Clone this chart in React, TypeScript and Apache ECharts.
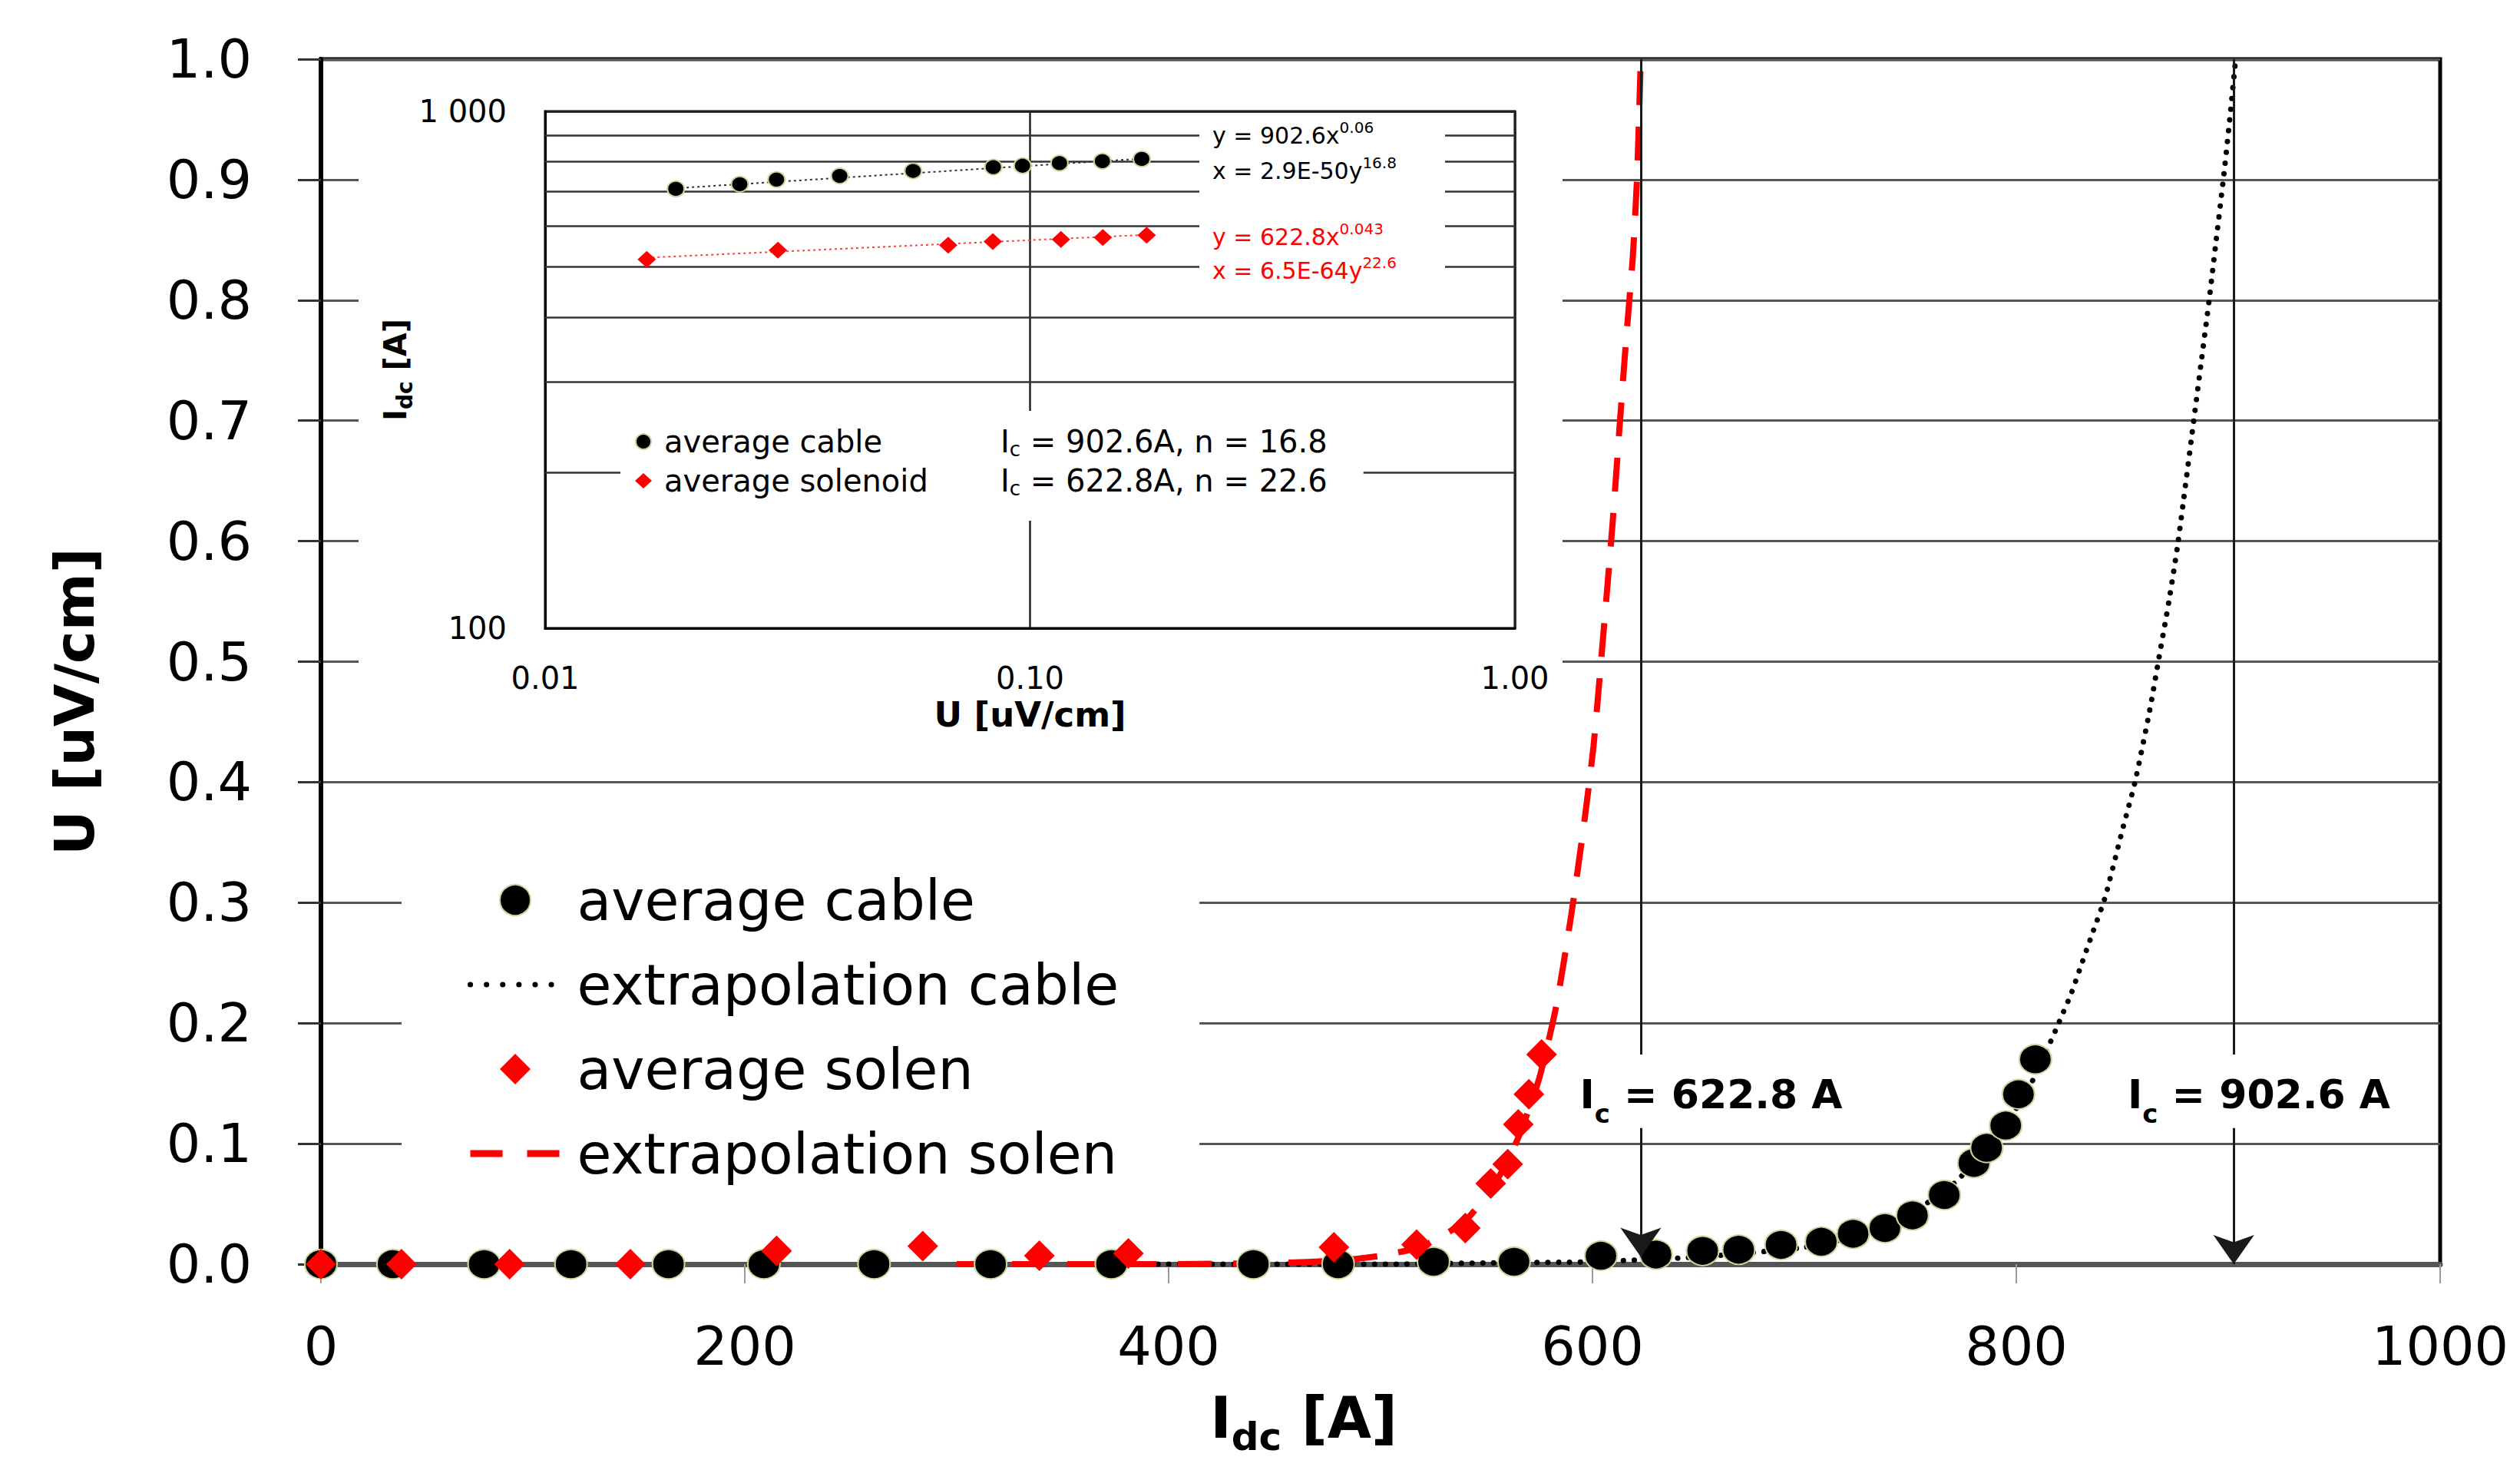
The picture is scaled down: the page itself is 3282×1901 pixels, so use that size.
import React, { useEffect, useRef } from "react";
import * as echarts from "echarts";

// ---------- main plot data (I in A, U in uV/cm) ----------
const cableI = [0, 34, 77, 118, 164, 209, 261, 316, 373, 440, 480, 525, 563, 604, 630, 652, 669, 689, 708, 723, 738, 751, 766, 780, 786, 795, 801, 809];
const cableU = [0, 0, 0, 0, 0, 0, 0, 0, 0, 0, 0, 0.002, 0.002, 0.007, 0.008, 0.011, 0.012, 0.016, 0.0186, 0.0252, 0.03, 0.0405, 0.0574, 0.084, 0.0965, 0.115, 0.141, 0.17];
const solenI = [0, 38, 89, 146, 215, 284, 339, 381, 478, 517, 540, 552, 560, 565, 570, 576];
const solenU = [0, 0, 0, 0, 0.011, 0.015, 0.007, 0.009, 0.014, 0.0162, 0.03, 0.067, 0.083, 0.116, 0.141, 0.174];

const extCableI = [395, 450, 500, 550, 600, 650, 700, 730, 750, 770, 790, 805, 815, 820, 826, 830, 835, 842, 850, 856, 863, 867, 872, 876, 879, 883, 887, 891, 894, 898, 901, 903.5];
const extCableU = [0, 0, 0, 0.001, 0.002, 0.006, 0.014, 0.026, 0.042, 0.066, 0.104, 0.143, 0.18, 0.2, 0.225, 0.245, 0.27, 0.305, 0.36, 0.4, 0.46, 0.5, 0.55, 0.595, 0.635, 0.69, 0.745, 0.8, 0.845, 0.905, 0.955, 1.0];
const extSolenI = [300, 350, 400, 450, 480, 500, 520, 540, 555, 565, 575, 583, 590, 596, 600.5, 605, 609.5, 613, 616, 619, 621, 622.8];
const extSolenU = [0, 0, 0, 0.001, 0.003, 0.007, 0.015, 0.036, 0.07, 0.105, 0.155, 0.215, 0.29, 0.365, 0.43, 0.52, 0.615, 0.7, 0.77, 0.835, 0.9, 1.0];

const xTickInterval = 200;
const yTickInterval = 0.1;

// critical currents and n-values
const IcCable = 902.6;
const nCable = 16.8;
const IcSolen = 622.8;
const nSolen = 22.6;

// annotation anchors (data space)
const lineGapU = [0.174, 0.115];
const arrowEndCableU = 0.0;
const arrowEndSolenU = 0.006;
const labelSolenAt = [656, 0.141];
const labelCableAt = [914.5, 0.141];

// ---------- inset (log-log) data ----------
const insetCableU = [0.0186, 0.0252, 0.03, 0.0405, 0.0574, 0.084, 0.0965, 0.115, 0.141, 0.17];
const insetCableI = [708, 723, 738, 750, 767, 780, 785, 794, 801, 809];
const insetSolenU = [0.0162, 0.0302, 0.0678, 0.0838, 0.1158, 0.1413, 0.174];
const insetSolenI = [517, 539, 551, 560, 565, 570, 576];
const cableFitU = [0.0186, 0.17];
const cableFitI = [710, 810];
const solenFitU = [0.0162, 0.174];
const solenFitI = [521, 577];
const insetMinorI = [200, 300, 400, 500, 600, 700, 800, 900];

const cableFitA = "902.6";
const cableFitB = "0.06";
const cableFitC = "2.9E-50";
const cableFitN = "16.8";
const solenFitA = "622.8";
const solenFitB = "0.043";
const solenFitC = "6.5E-64";
const solenFitN = "22.6";

const FONT = "DejaVu Sans";

// diamond legend icon padded to the legend item box so it keeps its shape
const DIAMOND_ICON = "path://M0,20L0,20M38.5,20L58.5,0L78.5,20L58.5,40ZM117,20L117,20";

const pairs = (xs: number[], ys: number[]) => xs.map((x, i) => [x, ys[i]]);

export default function App() {
  const ref = useRef<HTMLDivElement>(null);

  useEffect(() => {
    if (!ref.current) return;
    const chart = echarts.init(ref.current, undefined, { renderer: "svg" });

    const subRich = (size: number, pad: number, weight: string) => ({
      fontSize: size,
      fontFamily: FONT,
      fontWeight: weight,
      color: "#000",
      padding: [pad, 0, 0, 0],
    });

    const icLabel = (ic: number) => `{m|I}{sub|c}{m| = ${ic} A}`;

    const eqText = (x: number, y: number, text: string, color: string) => ({
      type: "text",
      z: 8,
      x,
      y,
      style: {
        text,
        fill: color,
        fontSize: 30,
        fontFamily: FONT,
        verticalAlign: "middle",
        rich: { p: { fontSize: 20, fontFamily: FONT, fill: color, padding: [0, 0, 20, 0] } },
      },
    });

    const option: any = {
      backgroundColor: "#fff",
      animation: false,
      textStyle: { fontFamily: FONT },
      grid: [
        { left: 418, right: 104, top: 77, bottom: 252, show: true, borderColor: "#000", borderWidth: 5 },
        { left: 710, right: 1309, top: 145, bottom: 1083, show: true, borderColor: "#000", borderWidth: 3, z: 3 },
      ],
      xAxis: [
        {
          type: "value",
          gridIndex: 0,
          min: 0,
          max: 1000,
          interval: xTickInterval,
          axisLine: { show: true, onZero: false, lineStyle: { color: "#555", width: 7 } },
          axisTick: { show: true, length: 25, lineStyle: { color: "#999", width: 2 } },
          axisLabel: { fontSize: 70, fontFamily: FONT, color: "#000", margin: 72, formatter: (v: number) => String(v) },
          splitLine: { show: false },
          name: "I{sub|dc} [A]",
          nameLocation: "middle",
          nameGap: 150,
          nameTextStyle: {
            fontSize: 74,
            fontWeight: "bold",
            fontFamily: FONT,
            color: "#000",
            padding: [0, 200, 0, 0],
            rich: { sub: subRich(50, 50, "bold") },
          },
        },
        {
          type: "log",
          gridIndex: 1,
          min: 0.01,
          max: 1,
          logBase: 10,
          z: 3,
          axisLine: { show: true, lineStyle: { color: "#000", width: 3 } },
          axisTick: { show: false },
          axisLabel: { fontSize: 40, fontFamily: FONT, color: "#000", margin: 45, formatter: (v: number) => v.toFixed(2) },
          splitLine: { show: true, lineStyle: { color: "#222", width: 2.5 } },
          name: "U [uV/cm]",
          nameLocation: "middle",
          nameGap: 90,
          nameTextStyle: { fontSize: 45, fontWeight: "bold", fontFamily: FONT, color: "#000" },
        },
      ],
      yAxis: [
        {
          type: "value",
          gridIndex: 0,
          min: 0,
          max: 1,
          interval: yTickInterval,
          axisLine: { show: true, onZero: false, lineStyle: { color: "#000", width: 6 } },
          axisTick: { show: true, length: 30, lineStyle: { color: "#333", width: 3 } },
          axisLabel: { fontSize: 70, fontFamily: FONT, color: "#000", margin: 90, formatter: (v: number) => v.toFixed(1) },
          splitLine: { show: true, lineStyle: { color: "#555", width: 3 } },
          name: "U [uV/cm]",
          nameLocation: "middle",
          nameGap: 285,
          nameTextStyle: {
            fontSize: 72,
            fontWeight: "bold",
            fontFamily: FONT,
            color: "#000",
            padding: [0, 104, 0, 0],
          },
        },
        {
          type: "log",
          gridIndex: 1,
          min: 100,
          max: 1000,
          logBase: 10,
          z: 3,
          axisLine: { show: true, lineStyle: { color: "#000", width: 3 } },
          axisTick: { show: false },
          axisLabel: {
            fontSize: 40,
            fontFamily: FONT,
            color: "#000",
            margin: 50,
            formatter: (v: number) => String(Math.round(v)).replace(/\B(?=(\d{3})+(?!\d))/g, " "),
          },
          splitLine: { show: true, lineStyle: { color: "#222", width: 2.5 } },
          name: "I{sub|dc} [A]",
          nameLocation: "middle",
          nameGap: 165,
          nameTextStyle: {
            fontSize: 40,
            fontWeight: "bold",
            fontFamily: FONT,
            color: "#000",
            rich: { sub: subRich(28, 26, "bold") },
          },
        },
      ],
      legend: [
        {
          data: [
            { name: "average cable" },
            {
              name: "extrapolation cable",
              itemStyle: { opacity: 0 },
              lineStyle: { color: "#000", width: 7, type: [0.1, 21], cap: "round" },
            },
            { name: "average solen", icon: DIAMOND_ICON },
            {
              name: "extrapolation solen",
              itemStyle: { opacity: 0 },
              lineStyle: { color: "#ff0000", width: 9, type: [42, 32] },
            },
          ],
          orient: "vertical",
          left: 523,
          top: 1109,
          itemWidth: 117,
          itemHeight: 40,
          itemGap: 30,
          symbolKeepAspect: true,
          padding: [23, 105, 16, 85],
          backgroundColor: "#fff",
          selectedMode: false,
          textStyle: { fontSize: 73, fontFamily: FONT, color: "#000", lineHeight: 80, padding: [0, 0, 0, 17] },
        },
        {
          data: ["average cable", "average solenoid"],
          orient: "vertical",
          left: 808,
          top: 535,
          itemWidth: 22,
          itemHeight: 20,
          itemGap: 5,
          symbolKeepAspect: true,
          padding: [17, 47, 29, 19],
          backgroundColor: "#fff",
          selectedMode: false,
          z: 10,
          textStyle: {
            fontSize: 40,
            fontFamily: FONT,
            color: "#000",
            padding: [0, 0, 0, 11],
            rich: {
              n: { fontSize: 40, fontFamily: FONT, color: "#000", width: 438, lineHeight: 46 },
              v: { fontSize: 40, fontFamily: FONT, color: "#000", lineHeight: 46 },
              s: { fontSize: 26, fontFamily: FONT, color: "#000", lineHeight: 30, padding: [20, 0, 0, 0] },
            },
          },
          formatter: (name: string) =>
            name === "average cable"
              ? `{n|average cable}{v|I}{s|c}{v| = ${IcCable}A, n = ${nCable}}`
              : `{n|average solenoid}{v|I}{s|c}{v| = ${IcSolen}A, n = ${nSolen}}`,
        },
      ],
      graphic: [
        { type: "rect", z: 1, shape: { x: 467, y: 95, width: 1568, height: 880 }, style: { fill: "#fff" } },
        { type: "rect", z: 7, shape: { x: 1562, y: 163, width: 320, height: 212 }, style: { fill: "#fff" } },
        eqText(1579, 176, `y = ${cableFitA}x{p|${cableFitB}}`, "#000"),
        eqText(1579, 222, `x = ${cableFitC}y{p|${cableFitN}}`, "#000"),
        eqText(1579, 308, `y = ${solenFitA}x{p|${solenFitB}}`, "#ff0000"),
        eqText(1579, 352, `x = ${solenFitC}y{p|${solenFitN}}`, "#ff0000"),
      ],
      series: [
        {
          name: "extrapolation cable",
          type: "line",
          xAxisIndex: 0,
          yAxisIndex: 0,
          data: pairs(extCableI, extCableU),
          symbol: "none",
          smooth: 0.2,
          lineStyle: { color: "#000", width: 7, type: [0.1, 14], cap: "round" },
          itemStyle: { color: "#000" },
          z: 2,
          markLine: {
            silent: true,
            symbol: "none",
            label: { show: false },
            lineStyle: { color: "#1a1a1a", width: 3, type: "solid" },
            data: [
              [{ coord: [IcSolen, 1.0] }, { coord: [IcSolen, lineGapU[0]] }],
              [{ coord: [IcSolen, lineGapU[1]] }, { coord: [IcSolen, arrowEndSolenU], symbol: "arrow", symbolSize: [40, 38] }],
              [{ coord: [IcCable, 1.0] }, { coord: [IcCable, lineGapU[0]] }],
              [{ coord: [IcCable, lineGapU[1]] }, { coord: [IcCable, arrowEndCableU], symbol: "arrow", symbolSize: [40, 38] }],
            ],
          },
          markPoint: {
            silent: true,
            z: 10,
            symbol: "rect",
            symbolSize: 2,
            itemStyle: { color: "rgba(0,0,0,0)" },
            label: {
              show: true,
              position: "inside",
              backgroundColor: "#fff",
              padding: [2, 8, 2, 8],
              color: "#000",
              fontFamily: FONT,
              fontWeight: "bold",
              fontSize: 52,
              rich: {
                m: { fontSize: 52, fontFamily: FONT, fontWeight: "bold", color: "#000" },
                sub: subRich(34, 50, "bold"),
              },
            },
            data: [
              { coord: labelSolenAt, label: { formatter: () => icLabel(IcSolen) } },
              { coord: labelCableAt, label: { formatter: () => icLabel(IcCable) } },
            ],
          },
        },
        {
          name: "extrapolation solen",
          type: "line",
          xAxisIndex: 0,
          yAxisIndex: 0,
          data: pairs(extSolenI, extSolenU),
          symbol: "none",
          smooth: 0.2,
          lineStyle: { color: "#ff0000", width: 8, type: [44, 28] },
          itemStyle: { color: "#ff0000" },
          z: 2,
        },
        {
          name: "average cable",
          type: "scatter",
          xAxisIndex: 0,
          yAxisIndex: 0,
          data: pairs(cableI, cableU),
          symbol: "circle",
          symbolSize: [42, 38],
          itemStyle: { color: "#000", borderColor: "#c4d79b", borderWidth: 2, opacity: 1 },
          z: 3,
        },
        {
          name: "average solen",
          type: "scatter",
          xAxisIndex: 0,
          yAxisIndex: 0,
          data: pairs(solenI, solenU),
          symbol: "diamond",
          symbolSize: [40, 40],
          itemStyle: { color: "#ff0000", opacity: 1 },
          z: 3,
        },
        // ---------- inset ----------
        {
          name: "cable fit",
          type: "line",
          xAxisIndex: 1,
          yAxisIndex: 1,
          data: pairs(cableFitU, cableFitI),
          symbol: "none",
          lineStyle: { color: "#333", width: 2, type: [3, 4] },
          z: 4,
          markLine: {
            silent: true,
            symbol: "none",
            label: { show: false },
            lineStyle: { color: "#333", width: 2.5, type: "solid" },
            data: insetMinorI.map((v) => ({ yAxis: v })),
          },
        },
        {
          name: "solenoid fit",
          type: "line",
          xAxisIndex: 1,
          yAxisIndex: 1,
          data: pairs(solenFitU, solenFitI),
          symbol: "none",
          lineStyle: { color: "#ff4040", width: 2, type: [3, 4] },
          z: 4,
        },
        {
          name: "average cable",
          type: "scatter",
          xAxisIndex: 1,
          yAxisIndex: 1,
          data: pairs(insetCableU, insetCableI),
          symbol: "circle",
          symbolSize: [22, 20],
          itemStyle: { color: "#000", borderColor: "#c4d79b", borderWidth: 2, opacity: 1 },
          z: 6,
        },
        {
          name: "average solenoid",
          type: "scatter",
          xAxisIndex: 1,
          yAxisIndex: 1,
          data: pairs(insetSolenU, insetSolenI),
          symbol: "diamond",
          symbolSize: [24, 22],
          itemStyle: { color: "#ff0000", opacity: 1 },
          z: 6,
        },
      ],
    };

    chart.setOption(option);
    return () => chart.dispose();
  }, []);

  return <div ref={ref} style={{ position: "absolute", left: 0, top: 0, width: 3282, height: 1901 }} />;
}
